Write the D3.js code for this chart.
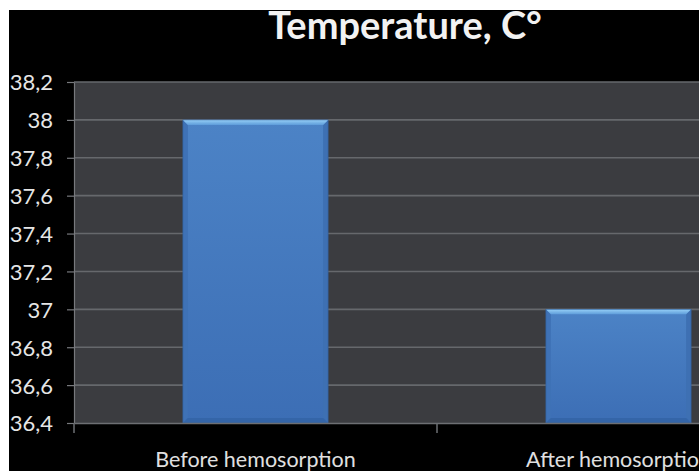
<!DOCTYPE html>
<html>
<head>
<meta charset="utf-8">
<script src="https://cdn.jsdelivr.net/npm/d3@7/dist/d3.min.js"></script>
<style>
  html, body { margin: 0; padding: 0; background: #ffffff; }
  svg { display: block; }
</style>
</head>
<body>
<svg id="chart" width="699" height="471"></svg>
<script>
// Chart data
const categories = ["Before hemosorption", "After hemosorption"];
const values = [38, 37];
const yTicks = [36.4, 36.6, 36.8, 37, 37.2, 37.4, 37.6, 37.8, 38, 38.2];
const title = "Temperature, C°";

const svg = d3.select("#chart");
const W = 699, H = 471;

// Plot frame (the plot runs past the right edge of the canvas)
const plot = { left: 74, right: 800, top: 82, bottom: 423 };

// Comma decimal separator for the value axis
const locale = d3.formatLocale({ decimal: ",", thousands: " ", grouping: [3], currency: ["", ""] });
const fmt = locale.format("~g");

const x = d3.scaleBand().domain(categories).range([plot.left, plot.right]).paddingInner(0).paddingOuter(0);
const y = d3.scaleLinear().domain([d3.min(yTicks), d3.max(yTicks)]).range([plot.bottom, plot.top]);

// Black chart background
svg.append("rect").attr("x", 9).attr("y", 10).attr("width", W - 9).attr("height", H - 10).attr("fill", "#000");

// Title
svg.append("text")
  .attr("x", 405).attr("y", 39)
  .attr("text-anchor", "middle")
  .attr("font-family", "Lato, 'Open Sans', sans-serif")
  .attr("font-weight", "bold")
  .attr("font-size", 38)
  .attr("fill", "#f2f2f2")
  .text(title);

// Plot area
svg.append("rect")
  .attr("x", plot.left).attr("y", plot.top)
  .attr("width", plot.right - plot.left).attr("height", plot.bottom - plot.top)
  .attr("fill", "#3b3c40");

// Horizontal gridlines
svg.append("g").selectAll("line")
  .data(yTicks.slice(1))
  .join("line")
  .attr("x1", plot.left).attr("x2", plot.right)
  .attr("y1", d => y(d)).attr("y2", d => y(d))
  .attr("stroke", "#66686c").attr("stroke-width", 1.6);

// Gradients for the bevelled bars
const defs = svg.append("defs");
const face = defs.append("linearGradient").attr("id", "barFace").attr("x1", 0).attr("y1", 0).attr("x2", 0).attr("y2", 1);
face.append("stop").attr("offset", "0%").attr("stop-color", "#4c83c6");
face.append("stop").attr("offset", "100%").attr("stop-color", "#3c6eb5");
const topBevel = defs.append("linearGradient").attr("id", "barTop").attr("x1", 0).attr("y1", 0).attr("x2", 0).attr("y2", 1);
topBevel.append("stop").attr("offset", "0%").attr("stop-color", "#96d0f7");
topBevel.append("stop").attr("offset", "100%").attr("stop-color", "#5e9cda");

const bevel = 5;
const barW = x.bandwidth() / 2.5;

const bars = svg.append("g").selectAll("g")
  .data(categories.map((c, i) => ({ c, v: values[i] })))
  .join("g");

const geom = d => {
  const x0 = x(d.c) + (x.bandwidth() - barW) / 2;
  const x1 = x0 + barW;
  const y0 = y(d.v);
  const y1 = y(yTicks[0]);
  return { x0, x1, y0, y1 };
};

bars.append("rect")
  .attr("x", d => geom(d).x0).attr("y", d => geom(d).y0)
  .attr("width", barW).attr("height", d => geom(d).y1 - geom(d).y0)
  .attr("fill", "url(#barFace)");

// Left edge
bars.append("polygon")
  .attr("points", d => { const g = geom(d); return [[g.x0, g.y0], [g.x0 + bevel, g.y0 + bevel], [g.x0 + bevel, g.y1 - bevel], [g.x0, g.y1]].join(" "); })
  .attr("fill", "#3f72b6");
// Right edge
bars.append("polygon")
  .attr("points", d => { const g = geom(d); return [[g.x1, g.y0], [g.x1 - bevel, g.y0 + bevel], [g.x1 - bevel, g.y1 - bevel], [g.x1, g.y1]].join(" "); })
  .attr("fill", "#3e70b3");
// Bottom edge
bars.append("polygon")
  .attr("points", d => { const g = geom(d); return [[g.x0, g.y1], [g.x0 + bevel, g.y1 - bevel], [g.x1 - bevel, g.y1 - bevel], [g.x1, g.y1]].join(" "); })
  .attr("fill", "#3465a8");
// Top highlight
bars.append("polygon")
  .attr("points", d => { const g = geom(d); return [[g.x0, g.y0], [g.x1, g.y0], [g.x1 - bevel, g.y0 + bevel], [g.x0 + bevel, g.y0 + bevel]].join(" "); })
  .attr("fill", "url(#barTop)");
bars.append("rect")
  .attr("x", d => geom(d).x0).attr("y", d => geom(d).y0)
  .attr("width", barW).attr("height", d => geom(d).y1 - geom(d).y0)
  .attr("fill", "none").attr("stroke", "#2e5c98").attr("stroke-width", 0.8).attr("stroke-opacity", 0.7);

// Value axis
const yAxis = svg.append("g")
  .attr("transform", `translate(${plot.left},0)`)
  .call(d3.axisLeft(y).tickValues(yTicks).tickFormat(fmt).tickSize(7).tickPadding(14).tickSizeOuter(0));
yAxis.select(".domain").attr("stroke", "#77797d").attr("stroke-width", 1.2);
yAxis.selectAll(".tick line").attr("stroke", "#77797d").attr("stroke-width", 1.2);
yAxis.selectAll(".tick text")
  .attr("fill", "#e6e6e6")
  .attr("font-family", "Lato, 'Open Sans', sans-serif")
  .attr("font-size", 22)
  .attr("dy", "0.36em");

// Category axis
const xAxis = svg.append("g")
  .attr("transform", `translate(0,${plot.bottom})`)
  .call(d3.axisBottom(x).tickSize(0).tickPadding(29).tickSizeOuter(0));
xAxis.select(".domain").attr("stroke", "#6d6f73").attr("stroke-width", 1.5);
xAxis.selectAll(".tick text")
  .attr("fill", "#e0e0e0")
  .attr("font-family", "Lato, 'Open Sans', sans-serif")
  .attr("font-size", 21.5)
  .attr("dy", "0.71em");

// Boundary ticks between categories
xAxis.append("g").selectAll("line")
  .data(categories.map(c => x(c)).concat([x(categories[categories.length - 1]) + x.bandwidth()]))
  .join("line")
  .attr("x1", d => d).attr("x2", d => d)
  .attr("y1", 0).attr("y2", 10)
  .attr("stroke", "#6d6f73").attr("stroke-width", 1.5);
</script>
</body>
</html>
